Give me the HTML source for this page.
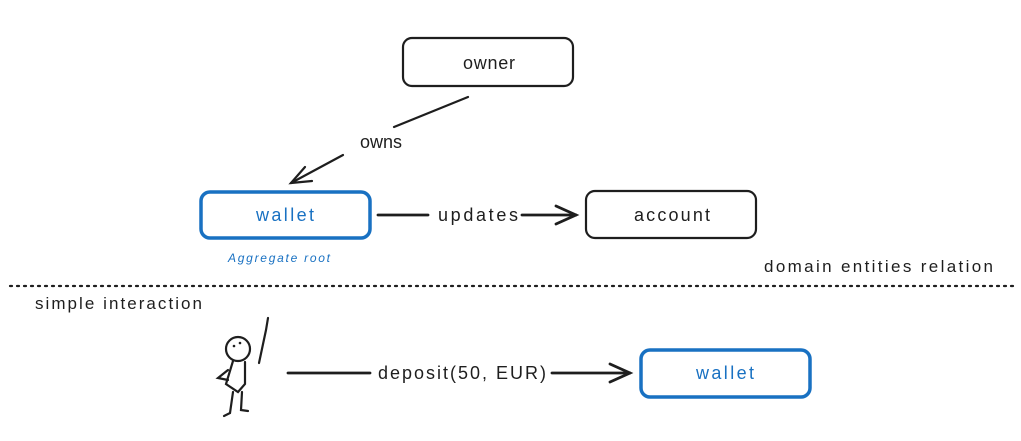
<!DOCTYPE html>
<html><head><meta charset="utf-8"><style>
html,body{margin:0;padding:0;background:#fff;width:1021px;height:441px;overflow:hidden}
text{font-family:"Liberation Sans",sans-serif}
</style></head><body>
<svg width="1021" height="441" viewBox="0 0 1021 441" xmlns="http://www.w3.org/2000/svg">
<g fill="none" stroke="#1e1e1e" stroke-width="2.2" stroke-linecap="round">
<rect x="403" y="38" width="170" height="48" rx="9"/>
<rect x="586" y="191" width="170" height="47" rx="9"/>
<line x1="468" y1="97" x2="394" y2="127"/>
<line x1="343" y1="155" x2="291" y2="183"/>
<polyline points="305,167 291,183 312,181"/>
<line x1="378" y1="215" x2="428" y2="215" stroke-width="2.8"/>
<line x1="522" y1="215" x2="576" y2="215" stroke-width="2.8"/>
<polyline points="556,206 576,215 556,224" stroke-width="2.8"/>
<line x1="10" y1="286" x2="1018" y2="286" stroke-dasharray="2 5"/>
<line x1="288" y1="373" x2="370" y2="373" stroke-width="2.8"/>
<line x1="552" y1="373" x2="630" y2="373" stroke-width="2.8"/>
<polyline points="610,364 630,373 610,382" stroke-width="2.8"/>
<!-- stick figure -->
<circle cx="238" cy="349" r="12"/>
<path d="M259,363 L266,330 L268,318"/>
<path d="M233,361 L226,384 L238,392 L245,384 L245,362"/>
<path d="M228,370 L218,378 L228,380"/>
<path d="M233,392 L230,413 L224,416"/>
<path d="M242,392 L241,410 L248,411"/>
</g>
<circle cx="234" cy="346" r="1.3" fill="#1e1e1e"/><circle cx="240" cy="343" r="1.3" fill="#1e1e1e"/>
<g fill="none" stroke="#1971c2" stroke-width="3.5">
<rect x="201" y="192" width="169" height="46" rx="9"/>
<rect x="641" y="350" width="169" height="47" rx="9"/>
</g>
<g font-size="18" fill="#1e1e1e">
<text x="463" y="69" textLength="52">owner</text>
<text x="634" y="221" textLength="76">account</text>
<text x="360" y="148" textLength="42">owns</text>
<text x="438" y="221" textLength="80">updates</text>
<text x="378" y="379" textLength="168">deposit(50, EUR)</text>
<text x="256" y="221" textLength="58" fill="#1971c2">wallet</text>
<text x="696" y="379" textLength="58" fill="#1971c2">wallet</text>
</g>
<text x="228" y="262" font-size="12" fill="#1971c2" font-style="italic" textLength="102">Aggregate root</text>
<text x="764" y="272" font-size="17" fill="#1e1e1e" textLength="229">domain entities relation</text>
<text x="35" y="309" font-size="17" fill="#1e1e1e" textLength="167">simple interaction</text>
</svg>
</body></html>
